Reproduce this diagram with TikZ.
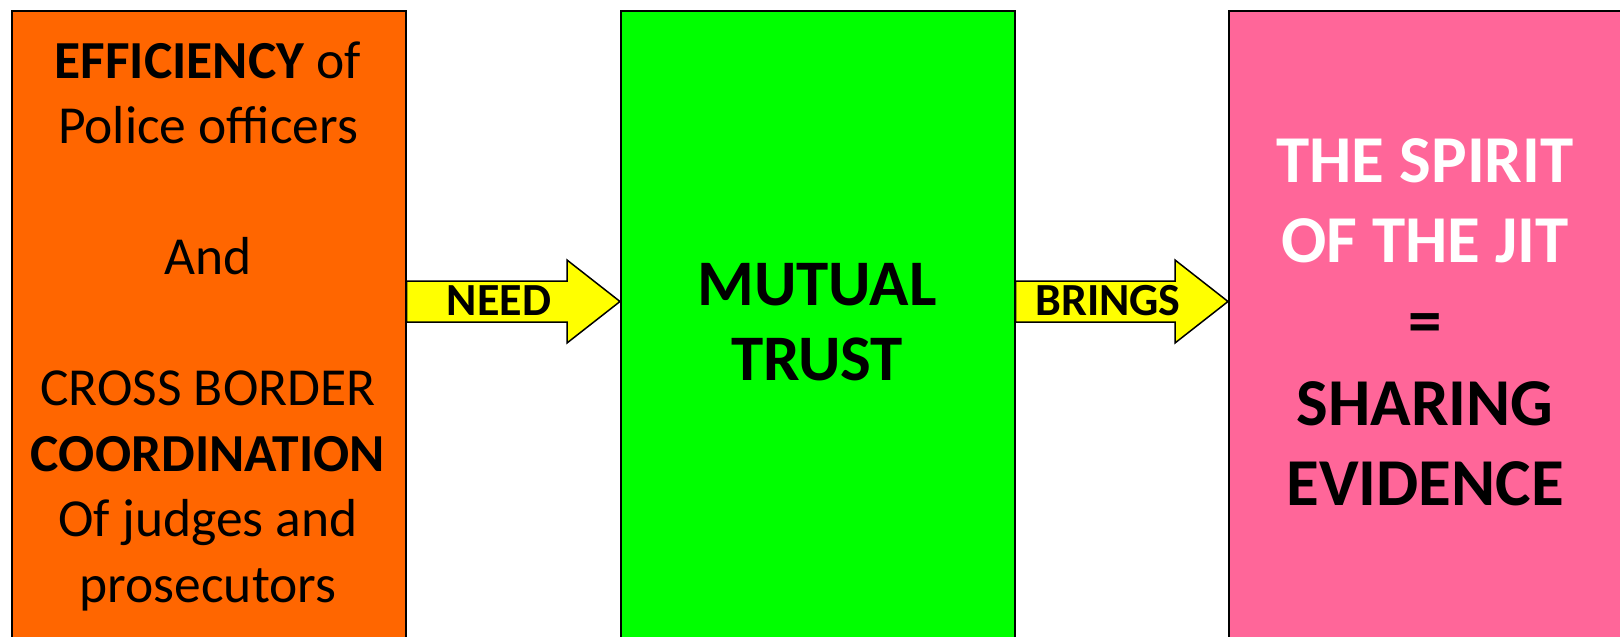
\documentclass[tikz,border=0pt]{standalone}
\usepackage{fontspec}
\setmainfont{Carlito}
\usetikzlibrary{calc}
\definecolor{boxorange}{HTML}{FF6600}
\definecolor{boxgreen}{HTML}{00FF00}
\definecolor{boxpink}{HTML}{FF6699}
\definecolor{arrowyellow}{HTML}{FFFF00}
\begin{document}
\begin{tikzpicture}[x=1pt,y=-1pt,
  box/.style={draw=black,line width=1.5pt,minimum width=394pt,minimum height=700pt,inner sep=0pt,anchor=north west},
  ltext/.style={anchor=base,inner sep=0pt,font=\fontsize{53.5}{60}\selectfont},
  gtext/.style={anchor=base,inner sep=0pt,font=\fontsize{65}{70}\selectfont\bfseries},
  ptext/.style={anchor=base,inner sep=0pt,font=\fontsize{67}{72}\selectfont\bfseries},
  atext/.style={anchor=base,inner sep=0pt,font=\fontsize{46}{50}\selectfont\bfseries},
  yarrow/.style={draw=black,fill=arrowyellow,line width=1.5pt,line join=miter}]
\clip (0,0) rectangle (1620,637);
\fill[white] (0,0) rectangle (1620,637);
% boxes
\node[box,fill=boxorange] (L) at (11,10) {};
\node[box,fill=boxgreen] (G) at (620,10) {};
\node[box,fill=boxpink] (P) at (1228,10) {};
% left text
\node[ltext] (l1) at (208,78) {\textbf{EFFICIENCY} of};
\node[ltext] (l2) at (208,143.5) {Police officers};
\node[ltext] (l4) at (208,274.5) {And};
\node[ltext] (l6) at (208,405.5) {CROSS BORDER};
\node[ltext] (l7) at (208,471) {\textbf{COORDINATION}};
\node[ltext] (l8) at (208,536.5) {Of judges and};
\node[ltext] (l9) at (208,602) {prosecutors};
% green text
\node[gtext] (g1) at (817,305) {MUTUAL};
\node[gtext] (g2) at (817,380) {TRUST};
% pink text
\node[ptext,text=white] (p1) at (1425,182) {THE SPIRIT};
\node[ptext,text=white] (p2) at (1425,262) {OF THE JIT};
\node[ptext] (p3) at (1425,343) {=};
\node[ptext] (p4) at (1425,425) {SHARING};
\node[ptext] (p5) at (1425,505) {EVIDENCE};
% arrows
\coordinate (ay) at (0,301.5);
\path (L.east |- ay) coordinate (a1s) (G.west |- ay) coordinate (a1t);
\path (G.east |- ay) coordinate (a2s) (P.west |- ay) coordinate (a2t);
\draw[yarrow] ($(a1s)+(0,-20.5)$) -- ($(a1t)+(-53,-20.5)$) -- ($(a1t)+(-53,-41.5)$) -- (a1t)
  -- ($(a1t)+(-53,41.5)$) -- ($(a1t)+(-53,20.5)$) -- ($(a1s)+(0,20.5)$) -- cycle;
\draw[yarrow] ($(a2s)+(0,-20.5)$) -- ($(a2t)+(-53,-20.5)$) -- ($(a2t)+(-53,-41.5)$) -- (a2t)
  -- ($(a2t)+(-53,41.5)$) -- ($(a2t)+(-53,20.5)$) -- ($(a2s)+(0,20.5)$) -- cycle;
\node[atext] (need) at (499,315) {NEED};
\node[atext] (brings) at (1108,315) {BRINGS};
\end{tikzpicture}
\end{document}
